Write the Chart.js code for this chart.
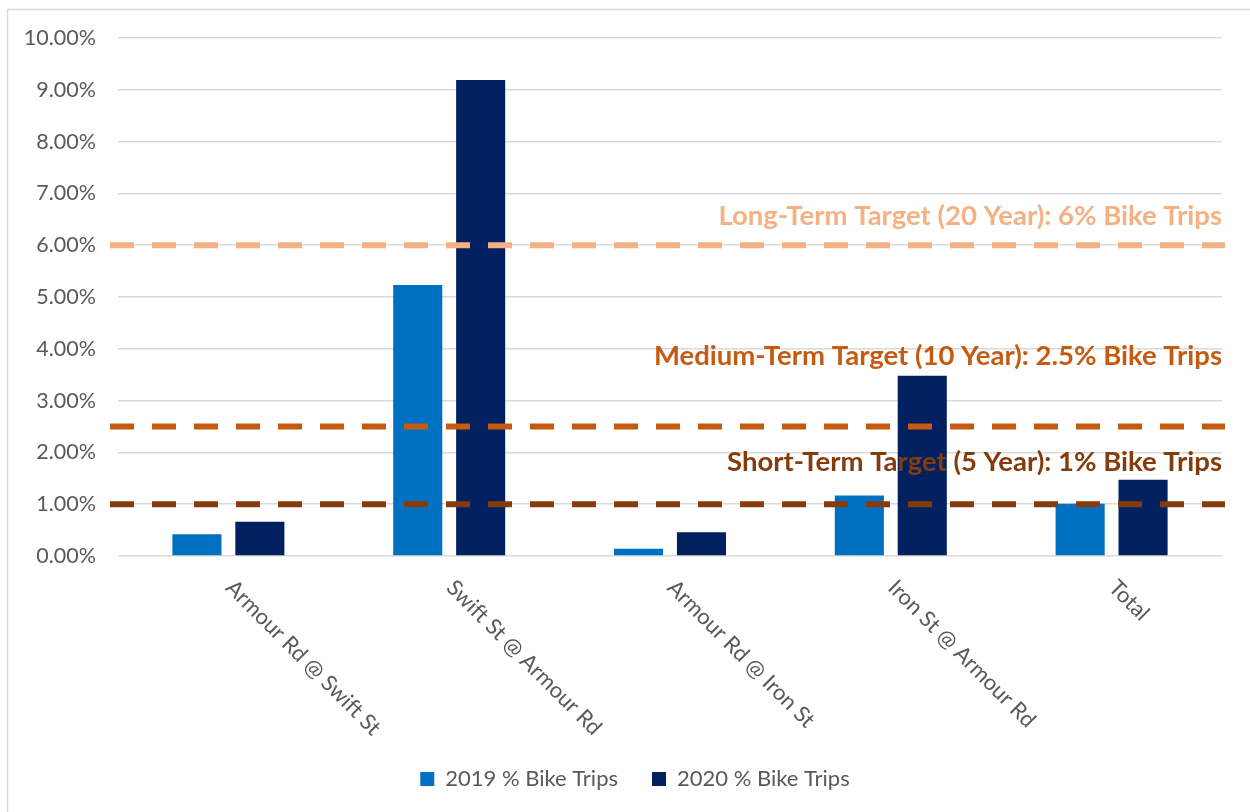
<!DOCTYPE html>
<html>
<head>
<meta charset="utf-8">
<title>Bike Trips by Intersection</title>
<script src="https://cdn.jsdelivr.net/npm/chart.js@4"></script>
<style>
  html, body { margin: 0; padding: 0; background: #fff; }
  #chart { display: block; }
</style>
</head>
<body>
<canvas id="chart" width="1250" height="812"></canvas>
<script>
const categories = [
  'Armour Rd @ Swift St',
  'Swift St @ Armour Rd',
  'Armour Rd @ Iron St',
  'Iron St @ Armour Rd',
  'Total'
];
const seriesNames = ['2019 % Bike Trips', '2020 % Bike Trips'];
const bikeTrips2019 = [0.42, 5.23, 0.14, 1.17, 1.01];
const bikeTrips2020 = [0.66, 9.19, 0.46, 3.48, 1.47];

const targetValues = [6, 2.5, 1];
const targetLabels = [
  'Long-Term Target (20 Year): 6% Bike Trips',
  'Medium-Term Target (10 Year): 2.5% Bike Trips',
  'Short-Term Target (5 Year): 1% Bike Trips'
];

const yTicks = [0, 1, 2, 3, 4, 5, 6, 7, 8, 9, 10];

// styling
const barColors = ['#0070C0', '#002060'];
const targetColors = ['#F4B183', '#C55A11', '#843C0C'];
const targetLabelLift = [29, 70, 42];
const textColor = '#595959';
const gridColor = '#D9D9D9';
const baseFont = 'Lato, "Open Sans", sans-serif';
const legendShift = 20;

// light frame along the top and left edge
const framePlugin = {
  id: 'frame',
  afterLayout(chart) {
    // legend sits centred on the whole frame, a little right of the plot centre
    chart.legend.left += legendShift;
    chart.legend.right += legendShift;
  },
  beforeDraw(chart) {
    const ctx = chart.ctx;
    ctx.save();
    ctx.fillStyle = '#fff';
    ctx.fillRect(0, 0, chart.width, chart.height);
    ctx.strokeStyle = gridColor;
    ctx.lineWidth = 1.5;
    ctx.beginPath();
    ctx.moveTo(7.5, chart.height);
    ctx.lineTo(7.5, 9.5);
    ctx.lineTo(chart.width, 9.5);
    ctx.stroke();
    ctx.restore();
  }
};

// dashed target lines on top of the bars, their captions, and the slanted category labels
const overlayPlugin = {
  id: 'overlay',
  afterDatasetsDraw(chart) {
    const ctx = chart.ctx;
    const x = chart.scales.x;
    const y = chart.scales.y;
    const area = chart.chartArea;
    ctx.save();

    ctx.lineWidth = 6;
    ctx.setLineDash([24, 18]);
    targetValues.forEach((v, i) => {
      const py = y.getPixelForValue(v);
      ctx.strokeStyle = targetColors[i];
      ctx.beginPath();
      ctx.moveTo(area.left - 8, py);
      ctx.lineTo(area.right + 3, py);
      ctx.stroke();
    });
    ctx.setLineDash([]);

    ctx.font = 'bold 27.5px ' + baseFont;
    ctx.textAlign = 'right';
    ctx.textBaseline = 'middle';
    targetValues.forEach((v, i) => {
      ctx.fillStyle = targetColors[i];
      ctx.fillText(targetLabels[i], area.right, y.getPixelForValue(v) - targetLabelLift[i]);
    });

    ctx.font = '22px ' + baseFont;
    ctx.fillStyle = textColor;
    ctx.textAlign = 'left';
    categories.forEach((name, i) => {
      const px = x.getPixelForTick(i);
      ctx.save();
      ctx.translate(px + 1, area.bottom + 28);
      ctx.rotate(Math.PI / 4);
      ctx.fillText(name, 0, 0);
      ctx.restore();
    });
    ctx.restore();
  }
};

new Chart(document.getElementById('chart'), {
  type: 'bar',
  data: {
    labels: categories,
    datasets: [
      { label: seriesNames[0], data: bikeTrips2019, backgroundColor: barColors[0] },
      { label: seriesNames[1], data: bikeTrips2020, backgroundColor: barColors[1] }
    ]
  },
  options: {
    responsive: false,
    animation: false,
    devicePixelRatio: 1,
    categoryPercentage: 0.57,
    barPercentage: 0.78,
    layout: { padding: { left: 8, right: 28, top: 38, bottom: 12 } },
    scales: {
      x: {
        grid: { display: false },
        border: { display: false },
        ticks: { display: false },
        afterFit(scale) { scale.height = 178; }
      },
      y: {
        min: 0,
        max: 10,
        afterBuildTicks(scale) {
          scale.ticks = yTicks.map(v => ({ value: v }));
        },
        ticks: {
          callback: v => v.toFixed(2) + '%',
          color: textColor,
          font: { family: baseFont, size: 21.5 },
          padding: 22
        },
        grid: { color: gridColor, lineWidth: 1.5, drawTicks: false },
        border: { display: false },
        afterFit(scale) { scale.width = 110; }
      }
    },
    plugins: {
      legend: {
        position: 'bottom',
        labels: {
          boxWidth: 14,
          boxHeight: 14,
          padding: 34,
          color: textColor,
          font: { family: baseFont, size: 22 }
        }
      },
      tooltip: { enabled: false }
    }
  },
  plugins: [framePlugin, overlayPlugin]
});
</script>
</body>
</html>
